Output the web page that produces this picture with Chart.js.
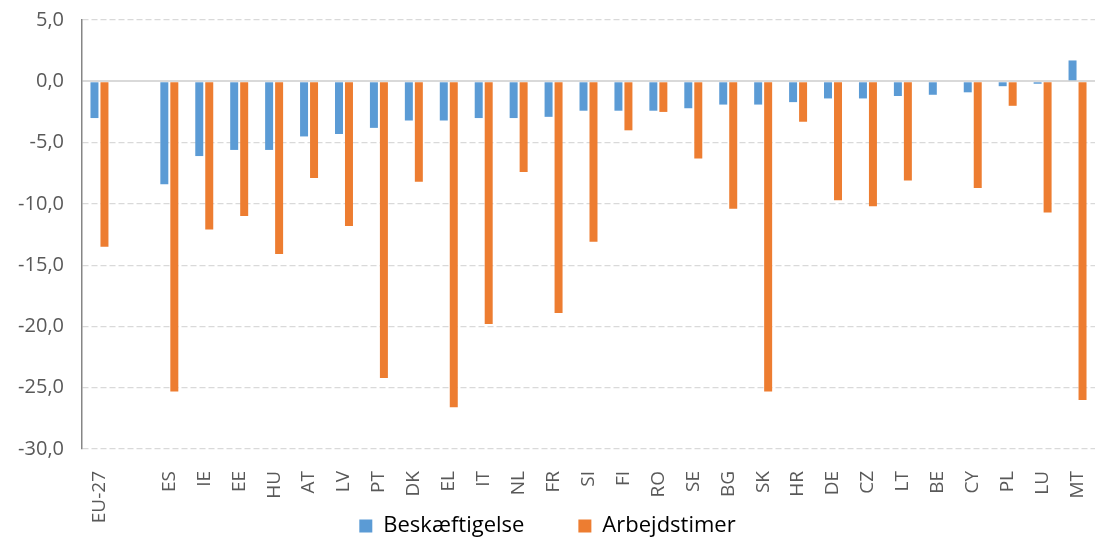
<!DOCTYPE html>
<html>
<head>
<meta charset="utf-8">
<script src="https://cdn.jsdelivr.net/npm/chart.js@4"></script>
<style>
    html, body { margin: 0; padding: 0; background: #fff; }
    #wrap { width: 1095px; height: 543px; }
</style>
</head>
<body>
<div id="wrap"><canvas id="chart"></canvas></div>
<script>
const countries = ["EU-27", "", "ES", "IE", "EE", "HU", "AT", "LV", "PT", "DK", "EL", "IT", "NL", "FR", "SI",
    "FI", "RO", "SE", "BG", "SK", "HR", "DE", "CZ", "LT", "BE", "CY", "PL", "LU", "MT"];
const employment = [-3.0, null, -8.4, -6.1, -5.6, -5.6, -4.5, -4.3, -3.8, -3.2, -3.2, -3.0, -3.0, -2.9, -2.4,
    -2.4, -2.4, -2.2, -1.9, -1.9, -1.7, -1.4, -1.4, -1.2, -1.1, -0.9, -0.4, -0.2, 1.7];
const hours = [-13.5, null, -25.3, -12.1, -11.0, -14.1, -7.9, -11.8, -24.2, -8.2, -26.6, -19.8, -7.4, -18.9, -13.1,
    -4.0, -2.5, -6.3, -10.4, -25.3, -3.3, -9.7, -10.2, -8.1, null, -8.7, -2.0, -10.7, -26.0];

const font = "'Open Sans', 'Liberation Sans', sans-serif";

let chartEl = document.getElementById("chart");

let chart = new Chart(chartEl, {
    type: 'bar',
    data: {
        labels: countries,
        datasets: [{
            label: 'Beskæftigelse',
            data: employment,
            backgroundColor: '#5b9bd5',
            barPercentage: 0.8,
            categoryPercentage: 0.572
        }, {
            label: 'Arbejdstimer',
            data: hours,
            backgroundColor: '#ed7d31',
            barPercentage: 0.8,
            categoryPercentage: 0.572
        }]
    },
    options: {
        responsive: true,
        maintainAspectRatio: false,
        animation: false,
        layout: { padding: { top: 20, right: 0, bottom: -4, left: 0 } },
        plugins: {
            tooltip: { enabled: false },
            legend: {
                position: 'bottom',
                labels: {
                    boxWidth: 13,
                    boxHeight: 13,
                    padding: 10,
                    color: '#000',
                    font: { family: font, size: 22 },
                    // widen the gap between the two entries
                    generateLabels: (c) => {
                        const items = Chart.defaults.plugins.legend.labels.generateLabels(c);
                        items[0].text += '\u2003\u2003';
                        return items;
                    }
                }
            }
        },
        scales: {
            x: {
                grid: { display: false },
                border: { display: false },
                ticks: {
                    color: '#595959',
                    font: { family: font, size: 19 },
                    maxRotation: 90,
                    minRotation: 90,
                    autoSkip: false,
                    padding: 14
                },
                afterFit: (scale) => {
                    scale.height = 56;
                    scale.paddingLeft = 0;
                    scale.paddingRight = 0;
                    // let the long rotated labels run below the axis box
                    scale._computeLabelArea = () => null;
                }
            },
            y: {
                min: -30,
                max: 5,
                grid: {
                    color: '#d9d9d9',
                    lineWidth: (ctx) => ctx.tick && ctx.tick.value === 0 ? 2 : 1.2,
                    drawTicks: false
                },
                border: {
                    display: true,
                    color: '#868686',
                    width: 1.5,
                    dash: (ctx) => ctx.tick && ctx.tick.value === 0 ? [] : [6, 3]
                },
                ticks: {
                    stepSize: 5,
                    color: '#595959',
                    font: { family: font, size: 20 },
                    padding: 18,
                    callback: (v) => v.toFixed(1).replace('.', ',')
                },
                afterFit: (scale) => {
                    scale.width = 82;
                    scale.paddingTop = 0;
                    scale.paddingBottom = 0;
                }
            }
        }
    }
});
</script>
</body>
</html>
